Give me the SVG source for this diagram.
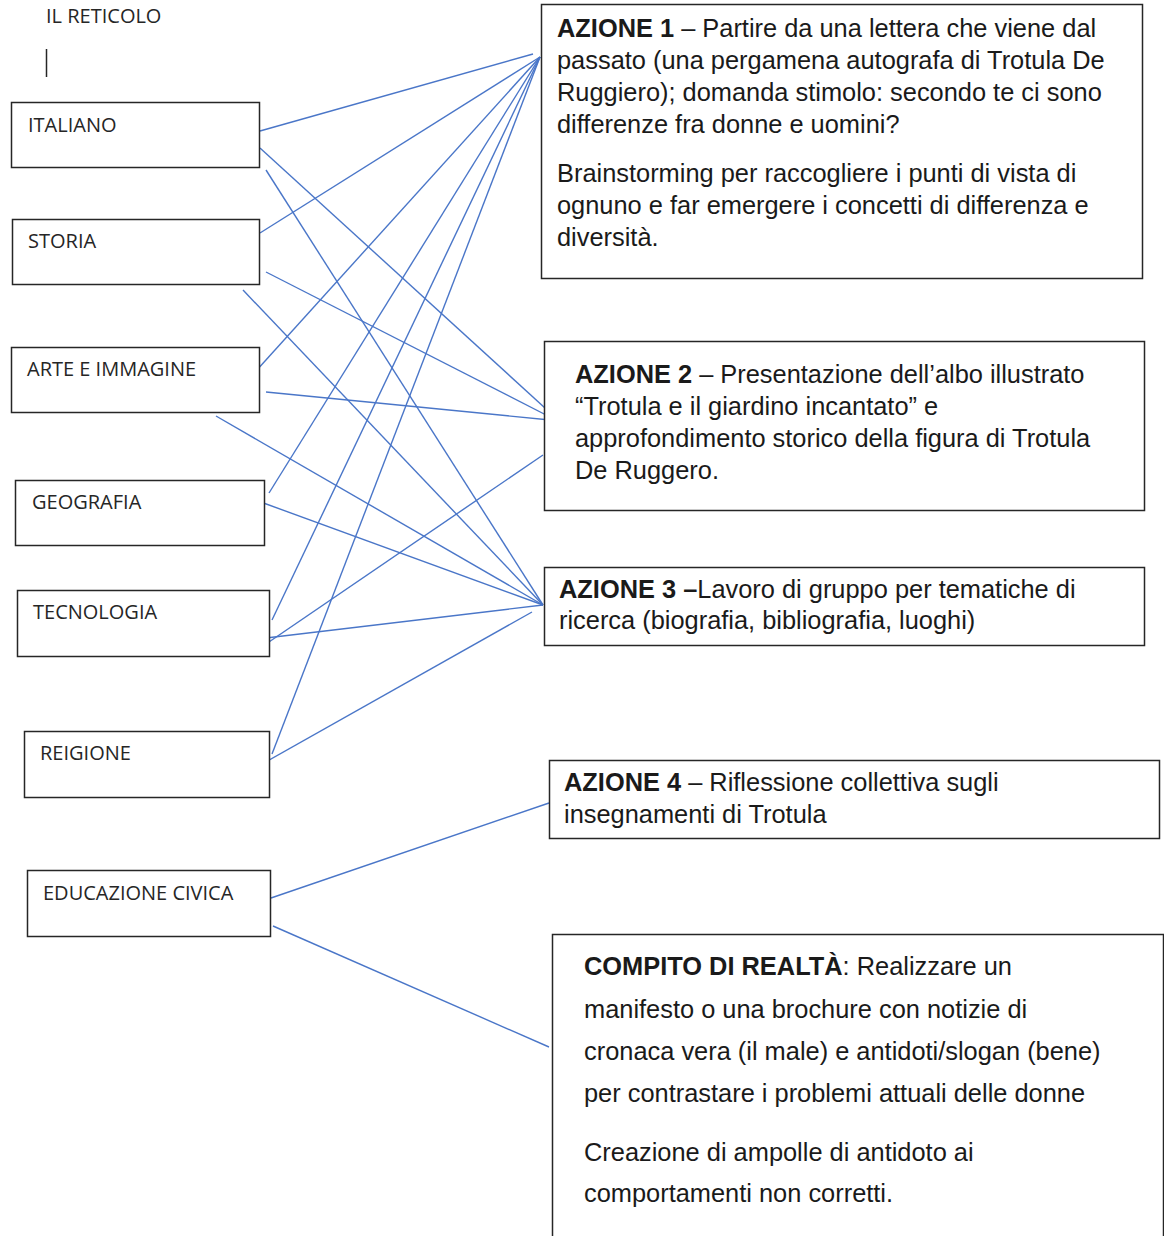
<svg xmlns="http://www.w3.org/2000/svg" width="1164" height="1236" viewBox="0 0 1164 1236">
<style>
.box{fill:#fff;stroke:#262626;stroke-width:1.5}
.lbl{font-family:"Open Sans","Liberation Sans",sans-serif;font-size:20px;fill:#262626}
.t{font-family:"Liberation Sans",Arial,sans-serif;font-size:25.4px;fill:#1a1a1a}
.b{font-weight:bold}
.c line{stroke:#4a76c8;stroke-width:1.4;fill:none}
</style>
<rect width="1164" height="1236" fill="#fff"/>
<g id="title">
<text class="lbl" x="46" y="23">IL RETICOLO</text>
<line x1="46.5" y1="49" x2="46.5" y2="77" stroke="#262626" stroke-width="1.5"/>
</g>
<g class="c" id="connectors">
<line x1="260" y1="131" x2="533" y2="54"/>
<line x1="260" y1="148" x2="545" y2="408"/>
<line x1="266" y1="170" x2="543" y2="605"/>
<line x1="260" y1="233" x2="540" y2="57"/>
<line x1="266" y1="272" x2="550" y2="417"/>
<line x1="243" y1="290" x2="543" y2="605"/>
<line x1="256" y1="371" x2="540" y2="57"/>
<line x1="266" y1="392" x2="550" y2="420"/>
<line x1="216" y1="416" x2="543" y2="605"/>
<line x1="269" y1="493" x2="540" y2="57"/>
<line x1="258" y1="501" x2="543" y2="605"/>
<line x1="272" y1="620" x2="540" y2="57"/>
<line x1="266" y1="644" x2="543" y2="455"/>
<line x1="266" y1="638" x2="543" y2="605"/>
<line x1="272" y1="754" x2="540" y2="57"/>
<line x1="262" y1="764" x2="532" y2="612"/>
<line x1="271" y1="898" x2="549" y2="803"/>
<line x1="273" y1="926" x2="549" y2="1047"/>
</g>
<g id="italiano"><rect class="box" x="11.5" y="102.5" width="248" height="65"/><text class="lbl" x="28" y="132">ITALIANO</text></g>
<g id="storia"><rect class="box" x="12.5" y="219.5" width="247" height="65"/><text class="lbl" x="28" y="248">STORIA</text></g>
<g id="arte"><rect class="box" x="11.5" y="347.5" width="248" height="65"/><text class="lbl" x="27" y="376">ARTE E IMMAGINE</text></g>
<g id="geografia"><rect class="box" x="15.5" y="480.5" width="249" height="65"/><text class="lbl" x="32" y="509">GEOGRAFIA</text></g>
<g id="tecnologia"><rect class="box" x="17.5" y="590.5" width="252" height="66"/><text class="lbl" x="33" y="619">TECNOLOGIA</text></g>
<g id="reigione"><rect class="box" x="24.5" y="731.5" width="245" height="66"/><text class="lbl" x="40" y="760">REIGIONE</text></g>
<g id="educazione"><rect class="box" x="27.5" y="870.5" width="243" height="66"/><text class="lbl" x="43" y="900">EDUCAZIONE CIVICA</text></g>
<g id="azione1"><rect class="box" x="541.5" y="4.5" width="601" height="274"/>
<text class="t" x="557" y="37"><tspan class="b">AZIONE 1</tspan> – Partire da una lettera che viene dal</text>
<text class="t" x="557" y="69">passato (una pergamena autografa di Trotula De</text>
<text class="t" x="557" y="101">Ruggiero); domanda stimolo: secondo te ci sono</text>
<text class="t" x="557" y="133">differenze fra donne e uomini?</text>
<text class="t" x="557" y="182">Brainstorming per raccogliere i punti di vista di</text>
<text class="t" x="557" y="214">ognuno e far emergere i concetti di differenza e</text>
<text class="t" x="557" y="246">diversità.</text>
</g>
<g id="azione2"><rect class="box" x="544.5" y="341.5" width="600" height="169"/>
<text class="t" x="575" y="383"><tspan class="b">AZIONE 2</tspan> – Presentazione dell’albo illustrato</text>
<text class="t" x="575" y="415">“Trotula e il giardino incantato” e</text>
<text class="t" x="575" y="447">approfondimento storico della figura di Trotula</text>
<text class="t" x="575" y="479">De Ruggero.</text>
</g>
<g id="azione3"><rect class="box" x="544.5" y="567.5" width="600" height="78"/>
<text class="t" x="559" y="598"><tspan class="b">AZIONE 3 –</tspan>Lavoro di gruppo per tematiche di</text>
<text class="t" x="559" y="629">ricerca (biografia, bibliografia, luoghi)</text>
</g>
<g id="azione4"><rect class="box" x="549.5" y="760.5" width="610" height="78"/>
<text class="t" x="564" y="791"><tspan class="b">AZIONE 4</tspan> – Riflessione collettiva sugli</text>
<text class="t" x="564" y="823">insegnamenti di Trotula</text>
</g>
<g id="compito"><rect class="box" x="552.5" y="934.5" width="611" height="320"/>
<text class="t" x="584" y="975"><tspan class="b">COMPITO DI REALTÀ</tspan>: Realizzare un</text>
<text class="t" x="584" y="1018">manifesto o una brochure con notizie di</text>
<text class="t" x="584" y="1060">cronaca vera (il male) e antidoti/slogan (bene)</text>
<text class="t" x="584" y="1102">per contrastare i problemi attuali delle donne</text>
<text class="t" x="584" y="1161">Creazione di ampolle di antidoto ai</text>
<text class="t" x="584" y="1202">comportamenti non corretti.</text>
</g>
</svg>
